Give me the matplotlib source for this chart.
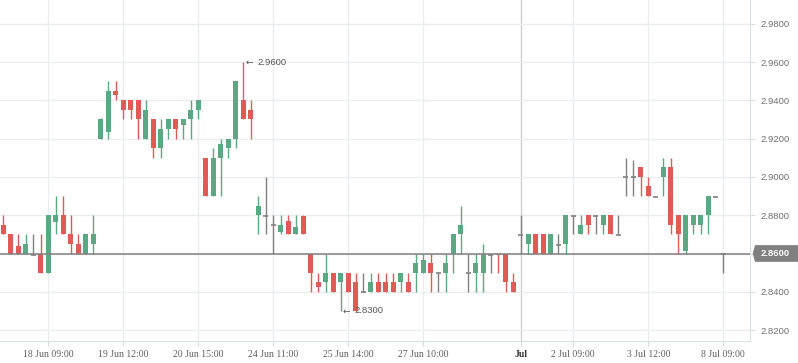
import matplotlib
matplotlib.use("Agg")
import matplotlib.pyplot as plt
import matplotlib.transforms as trns
from matplotlib.patches import Polygon

# candle data, one entry per bar (open, high, low, close)
OPENS = [2.875, 2.87, 2.864, 2.86, 2.8597, 2.86, 2.85, 2.8765, 2.88, 2.87,
         2.865, 2.86, 2.865, 2.92, 2.9235, 2.945, 2.94, 2.94, 2.94, 2.92,
         2.93, 2.915, 2.925, 2.93, 2.927, 2.93, 2.935, 2.91, 2.89, 2.91,
         2.915, 2.92, 2.94, 2.935, 2.88, 2.88, 2.875, 2.871, 2.877, 2.87,
         2.8795, 2.86, 2.845, 2.845, 2.85, 2.845, 2.85, 2.845, 2.84, 2.84,
         2.845, 2.845, 2.845, 2.845, 2.845, 2.85, 2.85, 2.855, 2.85, 2.85,
         2.86, 2.87, 2.85, 2.85, 2.85, 2.8597, 2.86, 2.86, 2.845, 2.87,
         2.865, 2.87, 2.87, 2.86, 2.865, 2.865, 2.88, 2.87, 2.88, 2.88,
         2.875, 2.88, 2.87, 2.90, 2.90, 2.905, 2.895, 2.89, 2.90, 2.905,
         2.88, 2.8614, 2.875, 2.875, 2.88, 2.89, 2.86]
HIGHS = [2.88, 2.87, 2.87, 2.87, 2.87, 2.87, 2.88, 2.89, 2.89, 2.88,
         2.87, 2.87, 2.88, 2.931, 2.95, 2.95, 2.94, 2.94, 2.94, 2.94,
         2.93, 2.93, 2.93, 2.93, 2.93, 2.94, 2.94, 2.91, 2.915, 2.92,
         2.92, 2.95, 2.96, 2.94, 2.89, 2.90, 2.88, 2.88, 2.88, 2.88,
         2.88, 2.86, 2.85, 2.86, 2.85, 2.85, 2.85, 2.85, 2.85, 2.85,
         2.85, 2.85, 2.85, 2.85, 2.85, 2.86, 2.86, 2.86, 2.85, 2.86,
         2.87, 2.885, 2.86, 2.86, 2.865, 2.86, 2.86, 2.86, 2.85, 2.88,
         2.87, 2.87, 2.87, 2.87, 2.87, 2.88, 2.88, 2.88, 2.88, 2.88,
         2.88, 2.88, 2.88, 2.91, 2.909, 2.905, 2.90, 2.89, 2.91, 2.91,
         2.88, 2.88, 2.88, 2.88, 2.89, 2.89, 2.86]
LOWS = [2.87, 2.86, 2.86, 2.86, 2.8597, 2.85, 2.85, 2.87, 2.87, 2.86,
        2.86, 2.86, 2.86, 2.92, 2.92, 2.94, 2.93, 2.93, 2.92, 2.92,
        2.91, 2.91, 2.92, 2.92, 2.92, 2.92, 2.93, 2.89, 2.89, 2.89,
        2.91, 2.915, 2.93, 2.92, 2.87, 2.87, 2.86, 2.87, 2.87, 2.87,
        2.87, 2.84, 2.84, 2.84, 2.84, 2.83, 2.84, 2.83, 2.84, 2.84,
        2.84, 2.84, 2.84, 2.84, 2.84, 2.84, 2.85, 2.84, 2.84, 2.84,
        2.85, 2.86, 2.84, 2.84, 2.84, 2.85, 2.85, 2.84, 2.84, 2.86,
        2.86, 2.86, 2.86, 2.86, 2.86, 2.86, 2.87, 2.87, 2.87, 2.87,
        2.87, 2.87, 2.87, 2.89, 2.89, 2.89, 2.89, 2.89, 2.89, 2.87,
        2.86, 2.86, 2.87, 2.87, 2.87, 2.89, 2.85]
CLOSES = [2.87, 2.86, 2.86, 2.865, 2.8597, 2.85, 2.88, 2.88, 2.87, 2.865,
          2.86, 2.87, 2.87, 2.93, 2.945, 2.9428, 2.935, 2.935, 2.93, 2.935,
          2.915, 2.925, 2.93, 2.925, 2.93, 2.935, 2.94, 2.89, 2.91, 2.917,
          2.92, 2.95, 2.93, 2.93, 2.885, 2.88, 2.875, 2.875, 2.87, 2.874,
          2.87, 2.85, 2.8425, 2.85, 2.84, 2.85, 2.84, 2.83, 2.84, 2.845,
          2.84, 2.84, 2.84, 2.85, 2.84, 2.855, 2.8565, 2.85, 2.85, 2.855,
          2.87, 2.875, 2.85, 2.855, 2.86, 2.8597, 2.859, 2.845, 2.84, 2.87,
          2.87, 2.86, 2.86, 2.87, 2.865, 2.88, 2.88, 2.875, 2.875, 2.88,
          2.88, 2.87, 2.87, 2.90, 2.90, 2.90, 2.89, 2.89, 2.905, 2.875,
          2.87, 2.88, 2.88, 2.88, 2.89, 2.89, 2.86]

TICK_BARS = [6, 16, 26, 36, 46, 56, 69, 76, 86, 96]
TICK_LABELS = ["18 Jun 09:00", "19 Jun 12:00", "20 Jun 15:00", "24 Jun 11:00",
               "25 Jun 14:00", "27 Jun 10:00", "Jul", "2 Jul 09:00",
               "3 Jul 12:00", "8 Jul 09:00"]
PRICE_TICKS = [2.82, 2.84, 2.86, 2.88, 2.90, 2.92, 2.94, 2.96, 2.98]

UP = "#5aa983"
DOWN = "#e05a56"
FLAT = "#808080"
GRID = "#ebeef1"
BODY_W = 0.667

fig = plt.figure(figsize=(7.98, 3.63), dpi=100)
ax = fig.add_axes([0, 22 / 363, 750 / 798, 341 / 363])

for i in range(len(OPENS)):
	o, h, l, c = OPENS[i], HIGHS[i], LOWS[i], CLOSES[i]
	if c > o:
		col = UP
	elif c < o:
		col = DOWN
	else:
		col = FLAT
	if h > l:
		ax.vlines(i, l, h, color=col, linewidth=1.0, zorder=3)
	if c == o:
		# doji: a small flat tick, slightly under the price so it shows
		ax.hlines(o - 0.0003, i - BODY_W / 2, i + BODY_W / 2, color=col, linewidth=1.2, zorder=6)
	else:
		ax.bar(i, abs(c - o), bottom=min(o, c), width=BODY_W, color=col, linewidth=0, zorder=4)

# last price line + tag
last = CLOSES[-1]
ax.axhline(last, color="#808080", linewidth=1.1, zorder=5)
blend = trns.blended_transform_factory(ax.transAxes, ax.transData)
hh = 0.00436
tag = Polygon([(1.0036, last), (1.0067, last + hh), (1.07, last + hh), (1.07, last - hh), (1.0067, last - hh)],
	closed=True, transform=blend, clip_on=False, facecolor="#808080", edgecolor="none", zorder=6)
ax.add_patch(tag)
ax.text(1.0147, last, "{:.4f}".format(last), transform=blend, ha="left", va="center",
	color="white", fontweight="bold", fontsize=6.8, family="Liberation Sans", zorder=7, clip_on=False)

# max / min markers
imax = HIGHS.index(max(HIGHS))
imin = LOWS.index(min(LOWS))
for idx, val in [(imax, HIGHS[imax]), (imin, LOWS[imin])]:
	ax.annotate("\u2190", (idx, val), xytext=(2, 0), textcoords="offset pixels",
		ha="left", va="center", fontsize=6.5, color="#555555", family="DejaVu Sans", zorder=6)
	ax.annotate("{:.4f}".format(val), (idx, val), xytext=(14, 0), textcoords="offset pixels",
		ha="left", va="center", fontsize=6.8, color="#555555", family="Liberation Sans", zorder=6)

ax.set_xlim(-0.44, 99.56)
ax.set_ylim(2.8143, 2.9924)

ax.set_yticks(PRICE_TICKS)
ax.set_yticklabels(["" if abs(p - last) < 0.005 else "{:.4f}".format(p) for p in PRICE_TICKS])
ax.yaxis.tick_right()
ax.tick_params(axis="y", length=3.6, width=0.8, color="#d8dde1", labelcolor="#707070", labelsize=6.8, pad=4)
for lbl in ax.get_yticklabels():
	lbl.set_family("Liberation Sans")

ax.set_xticks(TICK_BARS)
ax.set_xticklabels(TICK_LABELS)
ax.tick_params(axis="x", length=3.6, width=0.8, color="#d8dde1", labelcolor="#606060", labelsize=7, pad=3)
for lbl in ax.get_xticklabels():
	lbl.set_family("Liberation Serif")
	if lbl.get_text() == "Jul":
		lbl.set_fontweight("bold")
		lbl.set_color("#333333")

ax.grid(True, color=GRID, linewidth=1.0, zorder=0)
ax.set_axisbelow(True)
for gl, lab in zip(ax.get_xgridlines(), TICK_LABELS):
	if lab == "Jul":
		gl.set_color("#d0d0d0")

for s in ["left", "top"]:
	ax.spines[s].set_visible(False)
ax.spines["right"].set_color("#dadfe3")
ax.spines["bottom"].set_color("#dadfe3")

fig.savefig("out.png", dpi=100)
